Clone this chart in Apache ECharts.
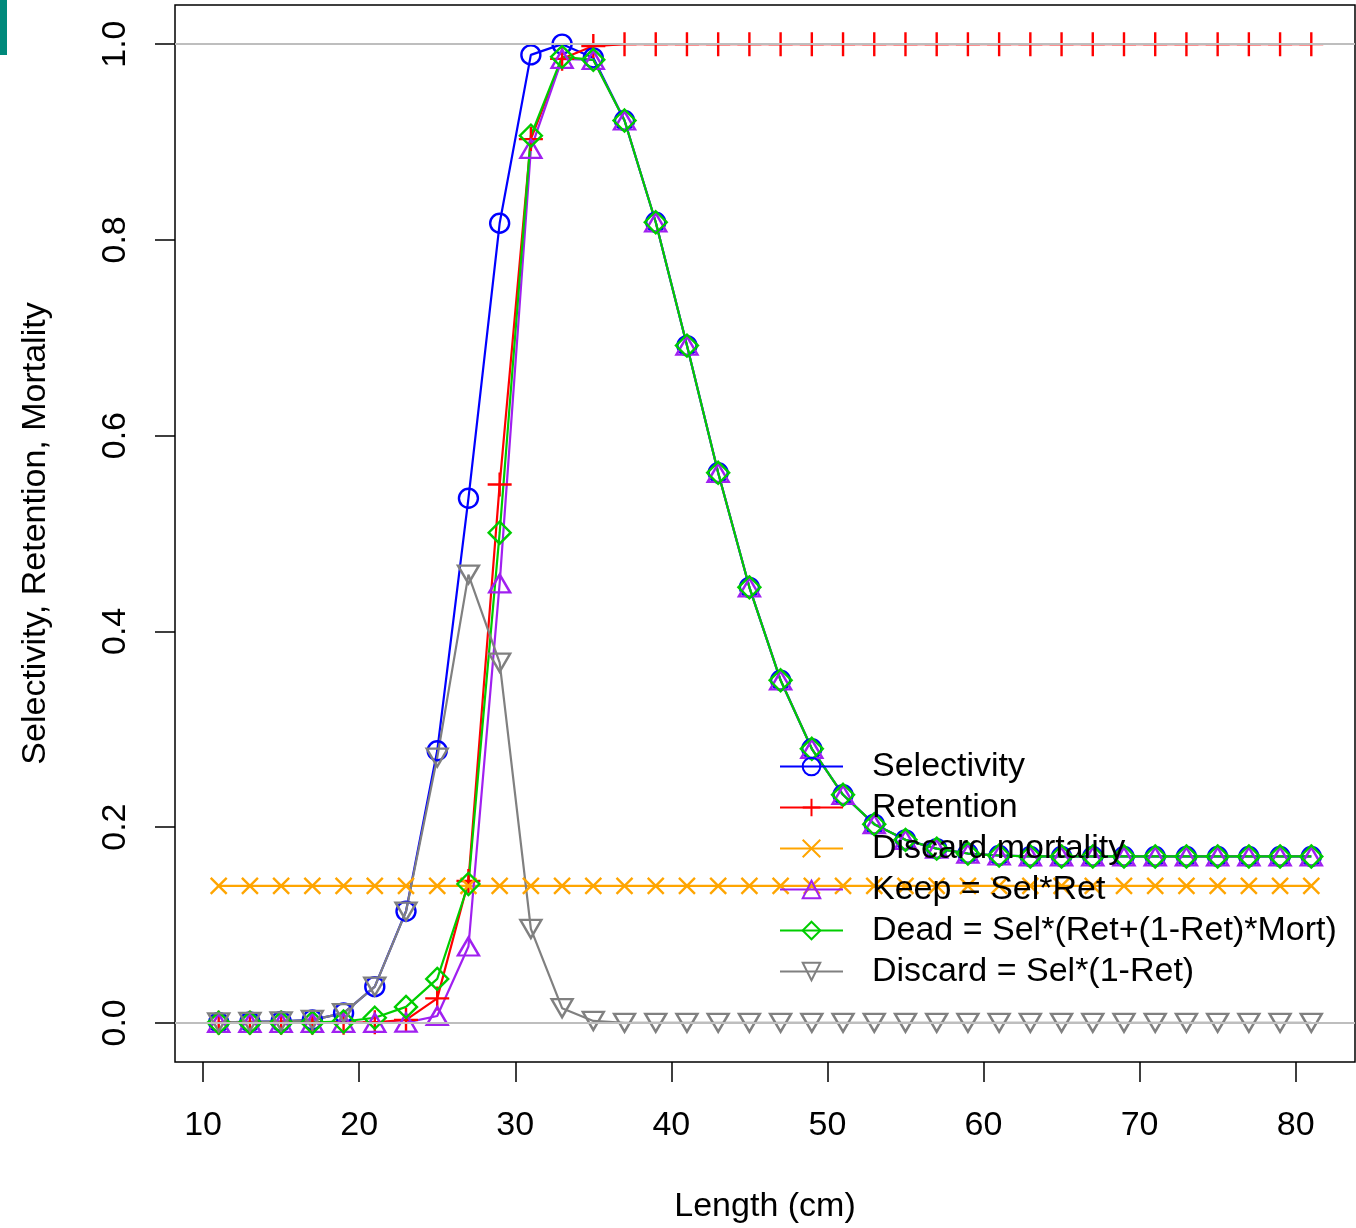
<!DOCTYPE html>
<html>
<head>
<meta charset="utf-8">
<script src="https://cdn.jsdelivr.net/npm/echarts@6/dist/echarts.min.js"></script>
<style>
html,body{margin:0;padding:0;background:#ffffff;}
#chart{width:1356px;height:1228px;}
</style>
</head>
<body>
<div id="chart"></div>
<script>
// ---- data ----
const lengths = [11,13,15,17,19,21,23,25,27,29,31,33,35,37,39,41,43,45,47,49,51,53,55,57,59,61,63,65,67,69,71,73,75,77,79,81];
const selectivity = [0.0005,0.001,0.0015,0.003,0.010,0.037,0.114,0.278,0.536,0.817,0.989,1.000,0.986,0.922,0.818,0.692,0.562,0.445,0.350,0.280,0.233,0.203,0.187,0.178,0.173,0.171,0.170,0.170,0.170,0.170,0.170,0.170,0.170,0.170,0.170,0.170];
const retention = [0,0,0,0,0.0001,0.0005,0.003,0.025,0.145,0.550,0.903,0.985,0.998,1,1,1,1,1,1,1,1,1,1,1,1,1,1,1,1,1,1,1,1,1,1,1];
const discardMortality = [0.14,0.14,0.14,0.14,0.14,0.14,0.14,0.14,0.14,0.14,0.14,0.14,0.14,0.14,0.14,0.14,0.14,0.14,0.14,0.14,0.14,0.14,0.14,0.14,0.14,0.14,0.14,0.14,0.14,0.14,0.14,0.14,0.14,0.14,0.14,0.14];
const keep = [0,0,0,0,0.000001,0.00002,0.0003,0.007,0.078,0.449,0.893,0.985,0.984,0.922,0.818,0.692,0.562,0.445,0.350,0.280,0.233,0.203,0.187,0.178,0.173,0.171,0.170,0.170,0.170,0.170,0.170,0.170,0.170,0.170,0.170,0.170];
const dead = [0.00007,0.00014,0.0002,0.0004,0.0014,0.0052,0.0163,0.0449,0.1419,0.5008,0.9065,0.987,0.984,0.922,0.818,0.692,0.562,0.445,0.350,0.280,0.233,0.203,0.187,0.178,0.173,0.171,0.170,0.170,0.170,0.170,0.170,0.170,0.170,0.170,0.170,0.170];
const discard = [0.0005,0.001,0.0015,0.003,0.010,0.037,0.1137,0.271,0.458,0.368,0.096,0.015,0.002,0,0,0,0,0,0,0,0,0,0,0,0,0,0,0,0,0,0,0,0,0,0,0];
const xTicks = [10,20,30,40,50,60,70,80];
const yTicks = [0,0.2,0.4,0.6,0.8,1.0];
const seriesNames = ['Selectivity','Retention','Discard mortality','Keep = Sel*Ret','Dead = Sel*(Ret+(1-Ret)*Mort)','Discard = Sel*(1-Ret)'];
const xTitle = 'Length (cm)';
const yTitle = 'Selectivity, Retention, Mortality';

// ---- chart ----
const FONT = "'Liberation Sans', Arial, Helvetica, sans-serif";
const pairs = arr => lengths.map((x, i) => [x, arr[i]]);

function mkSeries(name, arr, color, symbol, size, extra) {
  return Object.assign({
    name: name,
    type: 'line',
    data: pairs(arr),
    symbol: symbol,
    symbolSize: size,
    showAllSymbol: true,
    clip: false,
    lineStyle: { color: color, width: 2.2 },
    itemStyle: { color: 'rgba(0,0,0,0)', borderColor: color, borderWidth: 2.4 },
    emphasis: { disabled: true },
    animation: false
  }, extra || {});
}

const chart = echarts.init(document.getElementById('chart'), null, { renderer: 'canvas' });
chart.setOption({
  backgroundColor: '#ffffff',
  animation: false,
  textStyle: { fontFamily: FONT },
  graphic: [{ type: 'rect', shape: { x: 0, y: 0, width: 7, height: 55 }, style: { fill: '#00897B' }, silent: true }],
  grid: { left: 175, right: 1, top: 5, bottom: 166, outerBoundsMode: 'none', containLabel: false,
    show: true, borderColor: '#000', borderWidth: 1.5, backgroundColor: 'transparent' },
  legend: {
    data: seriesNames,
    orient: 'vertical',
    left: 779,
    top: 746,
    padding: 0,
    itemWidth: 63,
    itemHeight: 22,
    itemGap: 0,
    selectedMode: false,
    textStyle: { fontSize: 34, lineHeight: 41, color: '#000', fontFamily: FONT, padding: [0, 0, 0, 24] }
  },
  xAxis: {
    type: 'value',
    min: 8.2,
    max: 83.8,
    name: xTitle,
    nameLocation: 'middle',
    nameGap: 128,
    nameTextStyle: { fontSize: 34, color: '#000', fontFamily: FONT },
    axisLine: { show: false, onZero: false },
    splitLine: { show: false },
    axisTick: { show: true, inside: false, customValues: xTicks, length: 20, lineStyle: { color: '#000', width: 1.5 } },
    axisLabel: { show: true, customValues: xTicks, margin: 47, fontSize: 34, color: '#000', fontFamily: FONT }
  },
  yAxis: {
    type: 'value',
    min: -0.04,
    max: 1.04,
    name: yTitle,
    nameLocation: 'middle',
    nameGap: 122,
    nameTextStyle: { fontSize: 34, color: '#000', fontFamily: FONT },
    axisLine: { show: false, onZero: false },
    splitLine: { show: false },
    axisTick: { show: true, inside: false, customValues: yTicks, length: 20, lineStyle: { color: '#000', width: 1.5 } },
    axisLabel: { show: true, customValues: yTicks, rotate: 90, margin: 42, fontSize: 34, color: '#000', fontFamily: FONT,
      formatter: v => v.toFixed(1) }
  },
  series: [
    mkSeries(seriesNames[0], selectivity, '#0000FF', 'circle', 19, {
      markLine: {
        silent: true, symbol: ['none', 'none'], animation: false,
        label: { show: false },
        lineStyle: { color: '#BEBEBE', width: 2, type: 'solid' },
        emphasis: { disabled: true },
        data: [{ yAxis: 0 }, { yAxis: 1 }]
      }
    }),
    mkSeries(seriesNames[1], retention, '#FF0000', 'path://M10,0L10,20M0,10L20,10', 24),
    mkSeries(seriesNames[2], discardMortality, '#FFA500', 'path://M0,0L20,20M20,0L0,20', 16),
    mkSeries(seriesNames[3], keep, '#A020F0', 'triangle', [21, 18]),
    mkSeries(seriesNames[4], dead, '#00CD00', 'diamond', 22),
    mkSeries(seriesNames[5], discard, '#808080', 'triangle', [21, 18], { symbolRotate: 180 })
  ]
});
</script>
</body>
</html>
